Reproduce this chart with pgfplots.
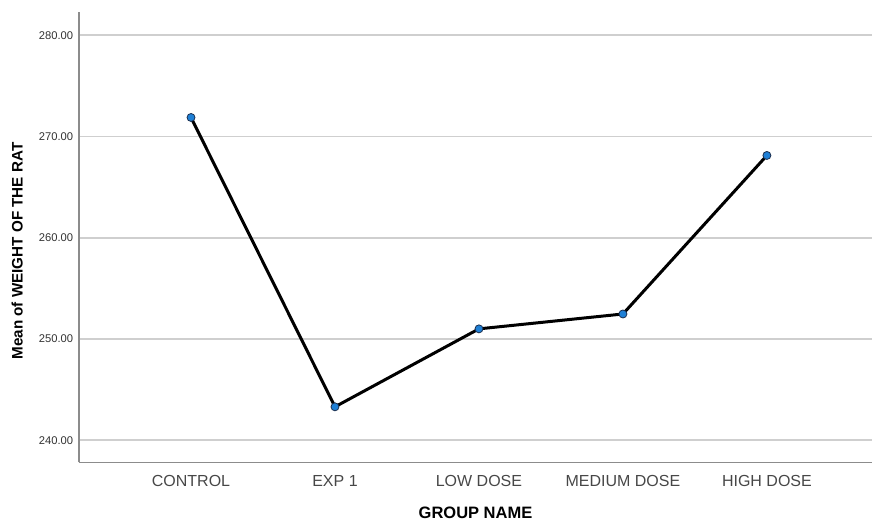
\documentclass[border=0pt]{standalone}
\usepackage{fontspec}
\setmainfont{Liberation Sans}
\usepackage{pgfplots}
\pgfplotsset{compat=1.18}
\definecolor{axisgray}{HTML}{8C8C8C}
\definecolor{gridgray}{HTML}{CFCFCF}
\definecolor{markblue}{HTML}{1F80D6}
\definecolor{markedge}{HTML}{1B2F4F}
\begin{document}
\begin{tikzpicture}
\begin{axis}[
  name=ax, at={(0,0)}, anchor=south west,
  scale only axis, width=793pt, height=450.5pt,
  xmin=-0.778, xmax=4.73, ymin=237.8, ymax=282.3,
  axis x line=bottom, axis y line=left,
  axis line style={-, axisgray, line width=1.6pt},
  xtick={0,...,4},
  xticklabels={CONTROL,EXP 1,LOW DOSE,MEDIUM DOSE,HIGH DOSE},
  ytick={240,250,...,280},
  major tick length=0pt,
  ymajorgrids, grid style={gridgray, line width=1.8pt},
  /pgf/number format/.cd, fixed, fixed zerofill, precision=2, assume math mode=true, /pgfplots/.cd,
  yticklabel style={font=\fontsize{11.2}{13}\selectfont, text=black!80, xshift=-2.3pt},
  xticklabel style={font=\fontsize{16}{19}\selectfont, text=black!72, anchor=base, yshift=-24pt},
  xlabel={\textbf{GROUP NAME}},
  xlabel style={font=\fontsize{16.5}{19}\selectfont, at={(axis description cs:0.5,-0.111)}, anchor=center},
  ylabel={\textbf{Mean of WEIGHT OF THE RAT}},
  ylabel style={font=\fontsize{15.2}{18}\selectfont, at={(axis description cs:-0.078,0.4695)}, anchor=center, rotate=0},
]
\addplot[black, line width=3pt, mark=*, mark size=4pt,
  mark options={fill=markblue, draw=markedge, line width=0.8pt}]
  coordinates {
  (0,271.88)
  (1,243.3)
  (2,251.0)
  (3,252.47)
  (4,268.13)
  };
\end{axis}
\pgfresetboundingbox
\path[use as bounding box] ([shift={(-79pt,-58.5pt)}]ax.south west) rectangle ([shift={(0pt,12pt)}]ax.north east);
\end{tikzpicture}
\end{document}
